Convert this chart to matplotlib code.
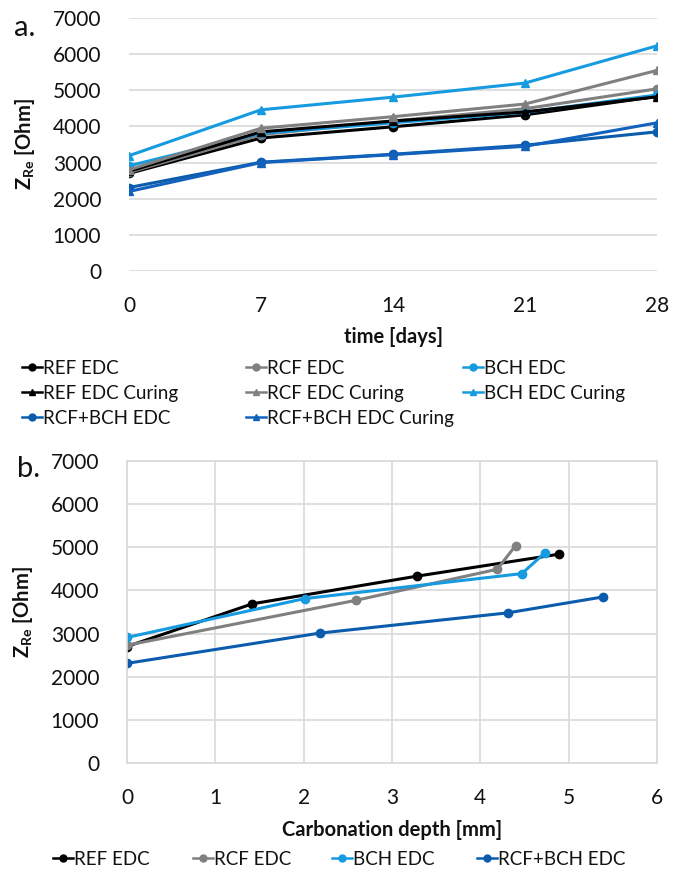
import matplotlib
matplotlib.use('Agg')
import matplotlib.pyplot as plt
from matplotlib.lines import Line2D

plt.rcParams['font.family'] = ['Lato', 'DejaVu Sans']
plt.rcParams['mathtext.fontset'] = 'custom'
plt.rcParams['mathtext.rm'] = 'Lato'
plt.rcParams['mathtext.bf'] = 'Lato:bold'

# datos panel a (tiempo)
dias = [0, 7, 14, 21, 28]
REF_EDC = [2700, 3680, 3990, 4320, 4830]
RCF_EDC = [2730, 3770, 4150, 4490, 5040]
BCH_EDC = [2910, 3810, 4100, 4390, 4870]
REF_EDC_Cur = [2760, 3850, 4150, 4400, 4820]
RCF_EDC_Cur = [2800, 3950, 4270, 4620, 5550]
BCH_EDC_Cur = [3190, 4460, 4810, 5200, 6230]
RCFBCH_EDC = [2310, 3010, 3230, 3480, 3850]
RCFBCH_EDC_Cur = [2200, 3000, 3220, 3450, 4100]

# datos panel b (profundidad de carbonatacion)
prof_REF = [0, 1.42, 3.28, 4.89]
z_REF = [2700, 3690, 4330, 4840]
prof_RCF = [0, 2.59, 4.19, 4.40]
z_RCF = [2730, 3770, 4490, 5040]
prof_BCH = [0, 2.01, 4.47, 4.73]
z_BCH = [2910, 3810, 4390, 4870]
prof_RCFBCH = [0, 2.18, 4.31, 5.39]
z_RCFBCH = [2310, 3010, 3480, 3850]

negro = '#000000'
gris = '#808080'
celeste = '#169be0'
azul = '#0b5cad'
azul2 = '#1262bd'
rejilla = '#d9d9d9'
texto = '#111111'

W, H = 681, 873
fig = plt.figure(figsize=(W / 100, H / 100), dpi=100)


def caja(x0, y0, x1, y1):
    return [x0 / W, 1 - y1 / H, (x1 - x0) / W, (y1 - y0) / H]


def leyenda(entradas, x, y_top, fs=13.5):
    handles = [Line2D([], [], color=c, marker=m, lw=1.8, ms=5) for c, m, _ in entradas]
    labels = [t for _, _, t in entradas]
    fig.legend(handles, labels, loc='upper left', bbox_to_anchor=(x / W, 1 - y_top / H),
               frameon=False, fontsize=fs, handlelength=1.05, handletextpad=0.05,
               labelspacing=0.42, borderpad=0, borderaxespad=0, labelcolor=texto)


# ---- panel a ----
ax1 = fig.add_axes(caja(129, 18, 657, 271))
ax1.plot(dias, REF_EDC, color=negro, marker='o', lw=2.2, ms=6)
ax1.plot(dias, RCF_EDC, color=gris, marker='o', lw=2.2, ms=6)
ax1.plot(dias, BCH_EDC, color=celeste, marker='o', lw=2.2, ms=6)
ax1.plot(dias, REF_EDC_Cur, color=negro, marker='^', lw=2.2, ms=6)
ax1.plot(dias, RCF_EDC_Cur, color=gris, marker='^', lw=2.2, ms=6)
ax1.plot(dias, BCH_EDC_Cur, color=celeste, marker='^', lw=2.2, ms=6)
ax1.plot(dias, RCFBCH_EDC, color=azul, marker='o', lw=2.2, ms=6)
ax1.plot(dias, RCFBCH_EDC_Cur, color=azul2, marker='^', lw=2.2, ms=6)
ax1.set_xlim(0, 28)
ax1.set_ylim(0, 7000)
ax1.set_xticks(dias)
ax1.set_yticks(range(0, 7001, 1000))
ax1.grid(axis='y', color=rejilla, lw=1.2)
ax1.set_axisbelow(True)
for s in ax1.spines.values():
    s.set_visible(False)
ax1.tick_params(length=0, labelsize=15, pad=20, colors=texto)
ax1.tick_params(axis='x', pad=18)
ax1.set_xlabel('time [days]', fontsize=14.5, fontweight='bold', labelpad=8, color=texto)
ax1.set_ylabel(r'Z$_{\mathbf{Re}}$ [Ohm]', fontsize=14.5, fontweight='bold', color=texto)
ax1.yaxis.set_label_coords((37 - 129) / 528, 0.5)
fig.text(14 / W, 1 - 28 / H, 'a.', fontsize=21, va='center', ha='left', color=texto)

leyenda([(negro, 'o', 'REF EDC'), (negro, '^', 'REF EDC Curing'), (azul, 'o', 'RCF+BCH EDC')], 22, 360)
leyenda([(gris, 'o', 'RCF EDC'), (gris, '^', 'RCF EDC Curing'), (azul2, '^', 'RCF+BCH EDC Curing')], 246, 360)
leyenda([(celeste, 'o', 'BCH EDC'), (celeste, '^', 'BCH EDC Curing')], 463, 360)

# ---- panel b ----
ax2 = fig.add_axes(caja(127, 461, 657, 763))
ax2.plot(prof_REF, z_REF, color=negro, marker='o', lw=2.2, ms=6)
ax2.plot(prof_RCF, z_RCF, color=gris, marker='o', lw=2.2, ms=6)
ax2.plot(prof_BCH, z_BCH, color=celeste, marker='o', lw=2.2, ms=6)
ax2.plot(prof_RCFBCH, z_RCFBCH, color=azul, marker='o', lw=2.2, ms=6)
ax2.set_xlim(0, 6)
ax2.set_ylim(0, 7000)
ax2.set_xticks(range(0, 7))
ax2.set_yticks(range(0, 7001, 1000))
ax2.grid(color=rejilla, lw=1.2)
ax2.set_axisbelow(True)
for s in ax2.spines.values():
    s.set_color(rejilla)
    s.set_linewidth(1.2)
ax2.tick_params(length=0, labelsize=15, pad=20, colors=texto)
ax2.tick_params(axis='x', pad=18)
ax2.set_xlabel('Carbonation depth [mm]', fontsize=14.5, fontweight='bold', labelpad=9, color=texto)
ax2.set_ylabel(r'Z$_{\mathbf{Re}}$ [Ohm]', fontsize=14.5, fontweight='bold', color=texto)
ax2.yaxis.set_label_coords((35 - 127) / 530, 0.5)
fig.text(17 / W, 1 - 469 / H, 'b.', fontsize=21, va='center', ha='left', color=texto)

for x, (c, t) in zip([53, 193, 332, 477], [(negro, 'REF EDC'), (gris, 'RCF EDC'),
                                          (celeste, 'BCH EDC'), (azul, 'RCF+BCH EDC')]):
    leyenda([(c, 'o', t)], x, 851)

fig.savefig('out.png', dpi=100)
